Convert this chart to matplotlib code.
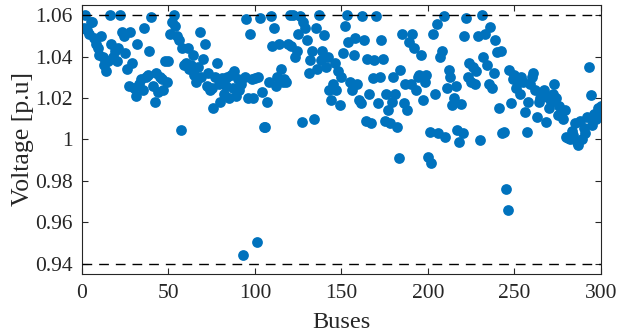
import matplotlib
matplotlib.use("Agg")
import matplotlib.pyplot as plt
from matplotlib.ticker import MultipleLocator, FuncFormatter

# voltage magnitude, one value per bus (1..300)
v_1_60 = [1.054, 1.060, 1.053, 1.051, 1.057, 1.057, 1.049, 1.046, 1.044, 1.041,
          1.050, 1.040, 1.036, 1.033, 1.038, 1.060, 1.046, 1.040, 1.043, 1.038,
          1.044, 1.060, 1.052, 1.050, 1.042, 1.034, 1.026, 1.052, 1.037, 1.025,
          1.021, 1.046, 1.027, 1.029, 1.024, 1.054, 1.030, 1.031, 1.043, 1.059,
          1.026, 1.018, 1.032, 1.023, 1.030, 1.029, 1.024, 1.038, 1.028, 1.038,
          1.051, 1.057, 1.060, 1.055, 1.050, 1.048, 1.0045, 1.044, 1.036, 1.037]
v_61_120 = [1.044, 1.034, 1.036, 1.041, 1.031, 1.028, 1.035, 1.052, 1.030, 1.039,
            1.046, 1.026, 1.032, 1.024, 1.025, 1.015, 1.030, 1.037, 1.027, 1.018,
            1.0295, 1.022, 1.026, 1.030, 1.020, 1.031, 1.025, 1.033, 1.021, 1.029,
            1.024, 1.027, 0.944, 1.030, 1.058, 1.020, 1.051, 1.029, 1.020, 1.0295,
            0.9505, 1.030, 1.0585, 1.023, 1.006, 1.006, 1.018, 1.028, 1.0595, 1.045,
            1.054, 1.026, 1.030, 1.046, 1.034, 1.028, 1.029, 1.028, 1.046, 1.060]
v_121_180 = [1.045, 1.060, 1.040, 1.043, 1.051, 1.0595, 1.0085, 1.057, 1.054, 1.048,
             1.032, 1.0385, 1.043, 1.010, 1.054, 1.034, 1.060, 1.0385, 1.043, 1.0505,
             1.035, 1.040, 1.024, 1.019, 1.027, 1.037, 1.024, 1.033, 1.0165, 1.030,
             1.042, 1.055, 1.060, 1.047, 1.028, 1.024, 1.041, 1.049, 1.027, 1.019,
             1.0175, 1.0595, 1.048, 1.009, 1.039, 1.022, 1.008, 1.0295, 1.0385, 1.0595,
             1.0175, 1.030, 1.048, 1.039, 1.009, 1.022, 1.014, 1.008, 1.018, 1.030]
v_181_240 = [1.022, 1.006, 0.991, 1.0335, 1.051, 1.0175, 1.027, 1.014, 1.047, 1.027,
             1.051, 1.044, 1.024, 1.030, 1.031, 1.041, 1.019, 1.028, 1.031, 0.9916,
             1.0037, 0.9885, 1.051, 1.022, 1.056, 1.003, 1.040, 1.043, 1.0595, 1.0013,
             1.025, 1.0335, 1.030, 1.0165, 1.020, 1.026, 1.0045, 0.999, 1.017, 1.003,
             1.050, 1.0585, 1.030, 1.037, 1.028, 1.035, 1.027, 1.033, 1.050, 0.9995,
             1.060, 1.040, 1.051, 1.036, 1.027, 1.0545, 1.025, 1.032, 1.048, 1.0425]
v_241_300 = [1.015, 1.043, 1.003, 1.0037, 0.9758, 0.9658, 1.0335, 1.0175, 1.029, 1.031,
             1.025, 1.028, 1.022, 1.030, 1.028, 1.0133, 1.0037, 1.018, 1.027, 1.030,
             1.032, 1.024, 1.011, 1.018, 1.020, 1.022, 1.024, 1.0085, 1.0205, 1.015,
             1.018, 1.022, 1.027, 1.020, 1.012, 1.016, 1.0118, 1.010, 1.014, 1.0013,
             1.0005, 1.000, 1.004, 1.002, 1.008, 0.999, 0.9973, 1.009, 1.000, 1.0053,
             1.003, 1.011, 1.035, 1.0215, 1.007, 1.0125, 1.010, 1.015, 1.0125, 1.016]

voltages = v_1_60 + v_61_120 + v_121_180 + v_181_240 + v_241_300
buses = list(range(1, len(voltages) + 1))

v_max = 1.06
v_min = 0.94

plt.rcParams['font.family'] = ['Liberation Serif', 'DejaVu Serif']

fig = plt.figure(figsize=(6.26, 3.34), dpi=100)
ax = fig.add_axes([0.131, 0.180, 0.829, 0.805])

ax.scatter(buses, voltages, s=60, color='#0072BD', linewidths=0, zorder=2)
ax.axhline(v_max, color='black', lw=1.0, dashes=(7, 5), zorder=3)
ax.axhline(v_min, color='black', lw=1.0, dashes=(7, 5), zorder=3)

ax.set_xlim(0, 300)
ax.set_ylim(0.935, 1.065)
ax.xaxis.set_major_locator(MultipleLocator(50))
ax.yaxis.set_major_locator(MultipleLocator(0.02))
ax.yaxis.set_major_formatter(FuncFormatter(lambda v, p: "%g" % round(v, 2)))

ax.tick_params(direction='in', length=4, width=0.8, top=True, right=True,
               labelsize=15.5, colors='#262626')
ax.tick_params(axis='x', pad=7)
ax.tick_params(axis='y', pad=6.5)
for sp in ax.spines.values():
    sp.set_color('#262626')
    sp.set_linewidth(0.8)

ax.set_xlabel("Buses", fontsize=17.5, color='#262626', labelpad=7)
ax.set_ylabel("Voltage [p.u]", fontsize=18.5, color='#262626', labelpad=1)

fig.savefig("out.png", dpi=100)
